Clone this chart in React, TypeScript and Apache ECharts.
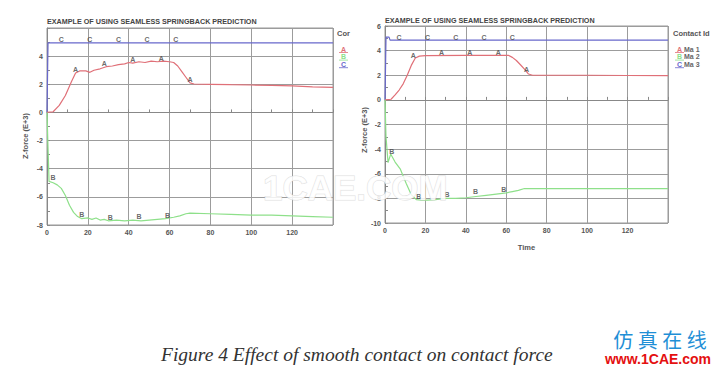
import React, { useEffect, useRef } from "react";
import * as echarts from "echarts";

// ---------- data ----------
const titleText = "EXAMPLE OF USING SEAMLESS SPRINGBACK PREDICTION";
const xTickMax = 140;

// Left panel
const leftATime = [0, 3, 6, 9, 12, 14, 16, 19, 21, 23, 26, 29, 32, 35, 38, 40, 42, 45, 48, 51, 54, 57, 60, 62, 64, 66, 68, 70, 72, 80, 90, 100, 110, 120, 130, 140];
const leftAVal = [0, 0.05, 0.5, 1.2, 2.2, 2.8, 2.95, 2.95, 2.85, 3.0, 3.1, 3.25, 3.3, 3.4, 3.45, 3.55, 3.5, 3.6, 3.55, 3.65, 3.6, 3.65, 3.6, 3.55, 3.3, 2.9, 2.5, 2.1, 2.02, 2.0, 1.97, 1.95, 1.92, 1.88, 1.82, 1.78];
const leftBTime = [0, 0.5, 1, 3, 5, 7, 9, 11, 13, 15, 17, 20, 22, 24, 26, 28, 30, 34, 38, 42, 46, 50, 54, 58, 62, 65, 68, 70, 80, 90, 100, 110, 120, 130, 140];
const leftBVal = [0, -2.5, -4.9, -5.0, -5.15, -5.4, -5.9, -6.6, -7.1, -7.4, -7.55, -7.5, -7.6, -7.5, -7.65, -7.6, -7.7, -7.65, -7.7, -7.65, -7.7, -7.65, -7.6, -7.55, -7.45, -7.35, -7.2, -7.15, -7.2, -7.25, -7.3, -7.3, -7.35, -7.4, -7.45];
const leftCTime = [0, 0.5, 140];
const leftCVal = [0, 4.95, 4.95];
const leftAMarkT = [14, 28, 42, 56, 70];
const leftAMarkV = [2.85, 3.25, 3.55, 3.62, 2.1];
const leftBMarkT = [3, 17, 31, 45, 59];
const leftBMarkV = [-4.85, -7.5, -7.65, -7.6, -7.55];
const leftCMarkT = [7, 21, 35, 49, 63];
const leftCMarkV = [4.95, 4.95, 4.95, 4.95, 4.95];

// Right panel
const rightATime = [0, 3, 5, 7, 9, 11, 13, 15, 17, 20, 40, 61, 63, 65, 67, 69, 71, 73, 80, 100, 120, 140];
const rightAVal = [0, 0.05, 0.4, 0.8, 1.3, 2.0, 2.8, 3.4, 3.55, 3.6, 3.62, 3.62, 3.45, 3.2, 2.85, 2.5, 2.1, 2.0, 2.0, 2.0, 1.98, 1.97];
const rightBTime = [0, 0.5, 1.5, 2.8, 5, 7.5, 10.5, 13, 15.5, 18, 21, 25, 30, 35, 40, 45, 50, 55, 60, 63, 66, 69, 80, 100, 120, 140];
const rightBVal = [0, -3, -5.1, -4.4, -5.05, -5.6, -6.8, -7.7, -8.1, -8.15, -8.15, -8.1, -8.0, -8.0, -7.95, -7.85, -7.75, -7.65, -7.55, -7.45, -7.35, -7.2, -7.2, -7.2, -7.2, -7.2];
const rightCTime = [0, 0.5, 2, 2.5, 140];
const rightCVal = [0, 5.1, 5.1, 4.85, 4.85];
const rightAMarkT = [14, 28, 42, 56, 70];
const rightAMarkV = [3.4, 3.6, 3.62, 3.62, 2.2];
const rightBMarkT = [3.3, 16.7, 30.7, 44.8, 58.7];
const rightBMarkV = [-4.4, -8.1, -7.9, -7.7, -7.5];
const rightCMarkT = [7, 21, 35, 49, 63];
const rightCMarkV = [4.85, 4.85, 4.85, 4.85, 4.85];

const legendLetters = ["A", "B", "C"];
const legendNames = ["Ma 1", "Ma 2", "Ma 3"];
const legendTitle = "Contact Id";
const yAxisName = "Z-force (E+3)";
const xAxisName = "Time";
const caption = "Figure 4 Effect of smooth contact on contact force";

// ---------- styles ----------
const RED = "#e07078";
const GREEN = "#8ee08a";
const BLUE = "#6868cc";
const GRID = "#9c9c9c";
const LBL = "#555";

const zip = (t: number[], v: number[]) => t.map((x, i) => [x, v[i]]);

function lineSeries(t: number[], v: number[], color: string, idx: number) {
  return {
    type: "line",
    xAxisIndex: idx,
    yAxisIndex: idx,
    data: zip(t, v),
    showSymbol: false,
    symbol: "none",
    lineStyle: { color, width: 1.2 },
    z: 3,
  };
}

function markSeries(t: number[], v: number[], letter: string, idx: number) {
  return {
    type: "scatter",
    xAxisIndex: idx,
    yAxisIndex: idx,
    data: zip(t, v),
    symbol: "circle",
    symbolSize: 1,
    itemStyle: { color: "rgba(0,0,0,0)" },
    label: {
      show: true,
      position: "inside",
      offset: [0, -3],
      formatter: () => letter,
      color: "#444",
      fontSize: 7,
      fontWeight: "bold",
      fontFamily: "Liberation Sans",
    },
    z: 4,
  };
}

function xAxis(idx: number, withName: boolean) {
  return {
    type: "value",
    gridIndex: idx,
    min: 0,
    max: xTickMax,
    interval: 20,
    name: withName ? xAxisName : "",
    nameLocation: "middle",
    nameGap: 20,
    nameTextStyle: { color: "#555", fontSize: 7.5, fontWeight: "bold", fontFamily: "Liberation Sans" },
    axisLine: { show: true, lineStyle: { color: "#888", width: 1 } },
    axisTick: { show: true, inside: true, length: 3, lineStyle: { color: "#888" } },
    minorTick: { show: true, splitNumber: 2, length: 3, lineStyle: { color: "#888" } },
    splitLine: { show: true, lineStyle: { color: GRID, width: 1 } },
    axisLabel: {
      color: LBL,
      fontSize: 7,
      fontWeight: "bold",
      fontFamily: "Liberation Sans",
      margin: 4,
      formatter: (v: number) => (v === xTickMax ? "" : String(v)),
    },
  };
}

function yAxis(idx: number, min: number, hideTop: boolean) {
  return {
    type: "value",
    gridIndex: idx,
    min,
    max: 6,
    interval: 2,
    axisLine: { show: true, lineStyle: { color: "#888", width: 1 } },
    axisTick: { show: true, inside: true, length: 3, lineStyle: { color: "#888" } },
    minorTick: { show: true, splitNumber: 2, length: 3, lineStyle: { color: "#888" } },
    splitLine: { show: true, lineStyle: { color: GRID, width: 1 } },
    axisLabel: {
      color: LBL,
      fontSize: 7,
      fontWeight: "bold",
      fontFamily: "Liberation Sans",
      margin: 4,
      formatter: (v: number) => (hideTop && v === 6 ? "" : String(v)),
    },
  };
}

function legendGraphics(x: number, y: number, title: string, withNames: boolean) {
  const colors = [RED, GREEN, BLUE];
  const els: any[] = [
    {
      type: "text",
      x,
      y,
      style: { text: title, fill: "#555", fontSize: 7.5, fontWeight: "bold", fontFamily: "Liberation Sans", verticalAlign: "middle" },
    },
  ];
  legendLetters.forEach((l, i) => {
    const yy = y + 16 + i * 7.6;
    els.push({
      type: "text",
      x: x + 4,
      y: yy,
      style: { text: l, fill: colors[i], fontSize: 7, fontWeight: "bold", fontFamily: "Liberation Sans", verticalAlign: "middle" },
    });
    els.push({
      type: "line",
      shape: { x1: x + 2, y1: yy + 3.5, x2: x + 11, y2: yy + 3.5 },
      style: { stroke: colors[i], lineWidth: 0.8 },
    });
    if (withNames) {
      els.push({
        type: "text",
        x: x + 11,
        y: yy,
        style: { text: legendNames[i], fill: "#666", fontSize: 7, fontWeight: "bold", fontFamily: "Liberation Sans", verticalAlign: "middle" },
      });
    }
  });
  return els;
}

export default function App() {
  const ref = useRef<HTMLDivElement>(null);
  useEffect(() => {
    if (!ref.current) return;
    const chart = echarts.init(ref.current, null, { renderer: "svg" });
    const option: any = {
      animation: false,
      backgroundColor: "#ffffff",
      grid: [
        { left: 47, top: 28, width: 286, height: 197, show: true, borderColor: "#999", borderWidth: 1, backgroundColor: "transparent" },
        { left: 385, top: 26, width: 283, height: 197, show: true, borderColor: "#999", borderWidth: 1, backgroundColor: "transparent" },
      ],
      xAxis: [xAxis(0, false), xAxis(1, true)],
      yAxis: [yAxis(0, -8, true), yAxis(1, -10, false)],
      series: [
        lineSeries(leftCTime, leftCVal, BLUE, 0),
        lineSeries(leftATime, leftAVal, RED, 0),
        lineSeries(leftBTime, leftBVal, GREEN, 0),
        markSeries(leftAMarkT, leftAMarkV, "A", 0),
        markSeries(leftBMarkT, leftBMarkV, "B", 0),
        markSeries(leftCMarkT, leftCMarkV, "C", 0),
        lineSeries(rightCTime, rightCVal, BLUE, 1),
        lineSeries(rightATime, rightAVal, RED, 1),
        lineSeries(rightBTime, rightBVal, GREEN, 1),
        markSeries(rightAMarkT, rightAMarkV, "A", 1),
        markSeries(rightBMarkT, rightBMarkV, "B", 1),
        markSeries(rightCMarkT, rightCMarkV, "C", 1),
      ],
      graphic: [
        {
          type: "text",
          x: 47,
          y: 21,
          style: { text: titleText, fill: "#444", fontSize: 7.2, fontWeight: "bold", fontFamily: "Liberation Sans", verticalAlign: "middle" },
        },
        {
          type: "text",
          x: 385,
          y: 20,
          style: { text: titleText, fill: "#444", fontSize: 7.2, fontWeight: "bold", fontFamily: "Liberation Sans", verticalAlign: "middle" },
        },
        {
          type: "text",
          x: 25,
          y: 136,
          rotation: Math.PI / 2,
          style: { text: yAxisName, fill: "#555", fontSize: 7.5, fontWeight: "bold", fontFamily: "Liberation Sans", align: "center", verticalAlign: "middle" },
        },
        {
          type: "text",
          x: 364,
          y: 130,
          rotation: Math.PI / 2,
          style: { text: yAxisName, fill: "#555", fontSize: 7.5, fontWeight: "bold", fontFamily: "Liberation Sans", align: "center", verticalAlign: "middle" },
        },
        ...legendGraphics(337, 33, "Cor", false),
        ...legendGraphics(673, 33, legendTitle, true),
        {
          type: "text",
          x: 263,
          y: 187,
          z: 100,
          style: {
            text: "1CAE.COM",
            fill: "rgba(255,255,255,0.85)",
            stroke: "rgba(200,200,200,0.6)",
            lineWidth: 1,
            fontSize: 35,
            fontWeight: "bold",
            fontFamily: "Liberation Sans",
            verticalAlign: "middle",
          },
        },
        {
          type: "text",
          x: 161,
          y: 354,
          style: { text: caption, fill: "#333", fontSize: 19.5, fontStyle: "italic", fontFamily: "Liberation Serif", verticalAlign: "middle" },
        },
        {
          type: "text",
          x: 660,
          y: 339,
          style: { text: "仿 真 在 线", fill: "#1f8fd6", fontSize: 20, fontFamily: "Noto Sans CJK SC", align: "center", verticalAlign: "middle" },
        },
        {
          type: "text",
          x: 658,
          y: 359,
          style: { text: "www.1CAE.com", fill: "#e41010", fontSize: 14, fontWeight: "bold", fontFamily: "Liberation Sans", align: "center", verticalAlign: "middle" },
        },
      ],
    };
    chart.setOption(option);
    return () => chart.dispose();
  }, []);
  return <div ref={ref} style={{ position: "absolute", left: 0, top: 0, width: 720, height: 369 }} />;
}
